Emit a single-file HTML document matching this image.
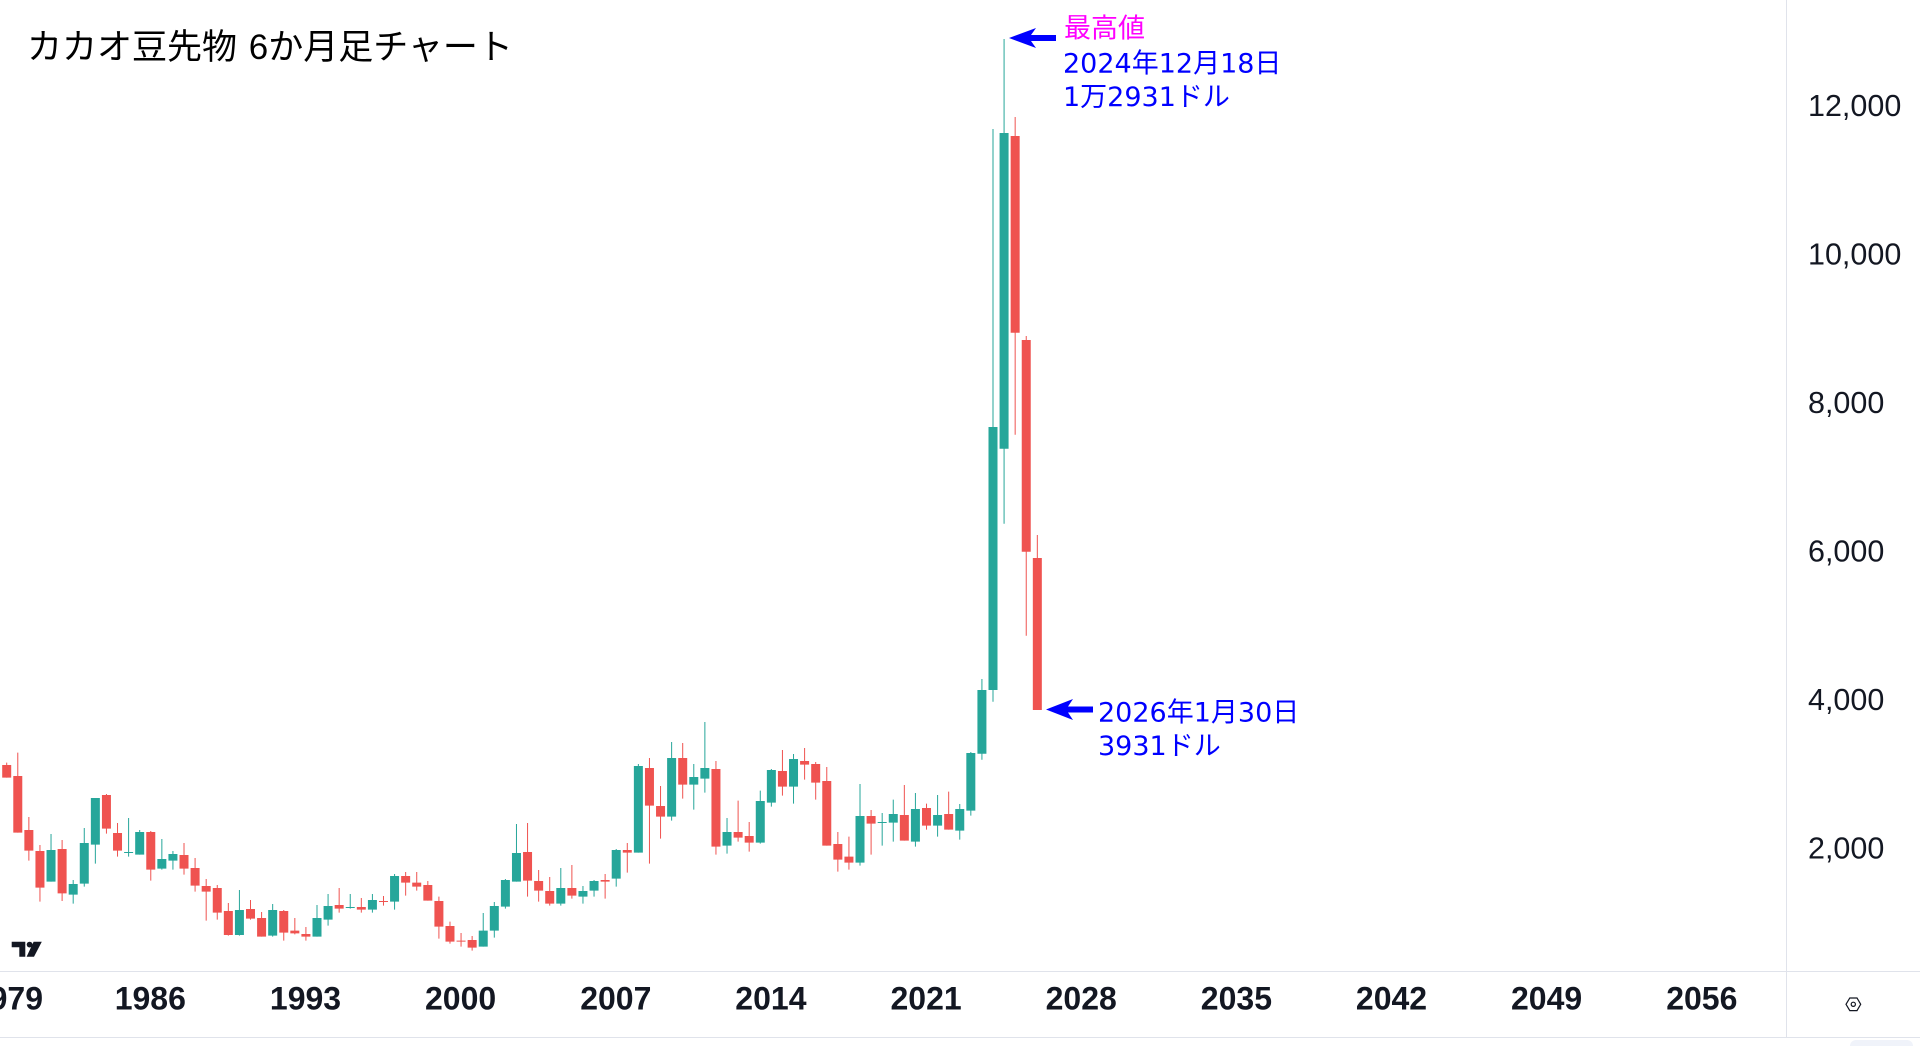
<!DOCTYPE html>
<html>
<head>
<meta charset="utf-8">
<style>
html,body{margin:0;padding:0;background:#fff;}
body{width:1920px;height:1046px;overflow:hidden;}
svg{display:block;}
</style>
</head>
<body>
<svg width="1920" height="1046" viewBox="0 0 1920 1046" xmlns="http://www.w3.org/2000/svg">
<rect x="0" y="0" width="1920" height="1046" fill="#ffffff"/>
<g stroke="#e0e3eb" stroke-width="1" shape-rendering="crispEdges">
<line x1="1786.5" y1="0" x2="1786.5" y2="1037"/>
<line x1="0" y1="971.5" x2="1920" y2="971.5"/>
<line x1="0" y1="1037.5" x2="1920" y2="1037.5"/>
</g>
<rect x="1850" y="1040" width="63" height="14" rx="6" fill="#f0f3fa"/>
<text x="27" y="59" font-family="'Liberation Sans','Noto Sans CJK JP',sans-serif" font-size="35" fill="#000">カカオ豆先物 <tspan dx="2">6か月足チャート</tspan></text>
<g transform="translate(0,700) scale(1,0.333333)">
<path stroke="#ef5350" stroke-width="1" fill="none" d="M6.70 188V233M17.78 158V398M28.86 351V482M39.95 435V605M62.11 420V603M106.44 282V401M117.52 369V470M150.77 393V542M184.01 429V524M195.09 474V575M206.18 537V662M217.26 555V659M228.34 609V707M250.50 600V659M261.59 636V710M283.75 630V722M294.83 654V703M305.91 681V722M339.16 564V638M361.32 594V638M383.49 588V617M405.65 516V587M416.73 516V572M427.82 543V602M438.90 590V716M449.98 665V731M461.06 699V740M472.14 708V752M527.55 369V590M538.64 510V605M549.72 531V617M571.88 495V596M605.13 522V596M627.29 429V518M649.46 174V491M660.54 258V416M682.70 129V296M715.95 183V464M738.11 302V425M749.19 366V455M782.44 150V287M804.60 144V239M815.69 186V299M826.77 201V437M837.85 396V515M848.93 410V509M871.10 330V464M904.34 255V422M926.51 311V389M948.67 275V389"/>
<path fill="#ef5350" d="M2.20 195h9v38h-9zM13.28 228h9v170h-9zM24.36 390h9v62h-9zM35.45 453h9v110h-9zM57.61 447h9v133h-9zM101.94 285h9v101h-9zM113.02 399h9v53h-9zM146.27 396h9v113h-9zM179.51 465h9v41h-9zM190.59 504h9v53h-9zM201.68 558h9v17h-9zM212.76 564h9v74h-9zM223.84 633h9v72h-9zM246.00 627h9v29h-9zM257.09 654h9v56h-9zM279.25 633h9v65h-9zM290.33 692h9v8h-9zM301.41 702h9v8h-9zM334.66 615h9v11h-9zM356.82 621h9v8h-9zM378.99 603h9v3h-9zM401.15 528h9v20h-9zM412.23 548h9v12h-9zM423.32 555h9v47h-9zM434.40 603h9v77h-9zM445.48 678h9v47h-9zM456.56 722h9v3h-9zM467.64 720h9v23h-9zM523.05 456h9v86h-9zM534.14 543h9v29h-9zM545.22 573h9v38h-9zM567.38 564h9v23h-9zM600.63 540h9v5h-9zM622.79 450h9v8h-9zM644.96 204h9v113h-9zM656.04 318h9v32h-9zM678.20 174h9v80h-9zM711.45 207h9v233h-9zM733.61 396h9v17h-9zM744.69 408h9v20h-9zM777.94 213h9v47h-9zM800.10 183h9v11h-9zM811.19 192h9v56h-9zM822.27 243h9v194h-9zM833.35 432h9v47h-9zM844.43 470h9v18h-9zM866.60 348h9v23h-9zM899.84 345h9v77h-9zM922.01 324h9v53h-9zM944.17 342h9v47h-9z"/>
<path stroke="#26a69a" stroke-width="1" fill="none" d="M51.03 402V545M73.19 540V611M84.27 384V560M95.36 294V491M128.60 354V470M139.68 390V464M161.85 417V509M172.93 453V509M239.42 570V707M272.67 612V710M317.00 615V710M328.08 582V677M350.24 582V626M372.41 582V638M394.57 522V629M483.23 639V740M494.31 606V713M505.39 537V626M516.47 372V545M560.80 504V617M582.96 558V611M594.05 540V590M616.21 447V560M638.37 192V458M671.62 126V362M693.78 192V329M704.87 66V278M727.03 354V461M760.28 272V431M771.36 207V320M793.52 162V311M860.01 252V497M882.18 339V437M893.26 299V425M915.42 279V440M937.59 285V410M959.75 312V419M970.83 156V347"/>
<path fill="#26a69a" d="M46.53 450h9v95h-9zM68.69 552h9v32h-9zM79.77 429h9v122h-9zM90.86 294h9v140h-9zM124.10 456h9v3h-9zM135.18 396h9v68h-9zM157.35 477h9v29h-9zM168.43 462h9v20h-9zM234.92 630h9v75h-9zM268.17 630h9v77h-9zM312.50 654h9v56h-9zM323.58 618h9v41h-9zM345.74 621h9v3h-9zM367.91 600h9v29h-9zM390.07 528h9v77h-9zM478.73 692h9v48h-9zM489.81 618h9v74h-9zM500.89 540h9v80h-9zM511.97 459h9v86h-9zM556.30 564h9v47h-9zM578.46 573h9v17h-9zM589.55 543h9v29h-9zM611.71 450h9v86h-9zM633.87 198h9v260h-9zM667.12 174h9v176h-9zM689.28 231h9v23h-9zM700.37 204h9v32h-9zM722.53 396h9v41h-9zM755.78 303h9v125h-9zM766.86 210h9v98h-9zM789.02 177h9v83h-9zM855.51 348h9v140h-9zM877.68 366h9v3h-9zM888.76 342h9v26h-9zM910.92 327h9v98h-9zM933.09 345h9v32h-9zM955.25 327h9v65h-9zM966.33 159h9v173h-9z"/>
</g>
<path stroke="#26a69a" stroke-width="1" fill="none" d="M981.92 679V759.7M993.00 129V701.7M1004.08 39V523.7"/>
<path fill="#26a69a" d="M977.42 690h9v63.7h-9zM988.50 427h9v263h-9zM999.58 133h9v315.7h-9z"/>
<path stroke="#ef5350" stroke-width="1" fill="none" d="M1015.16 117V434.7M1026.24 336V635.7M1037.33 535V710"/>
<path fill="#ef5350" d="M1010.66 136h9v196.7h-9zM1021.74 340h9v211.7h-9zM1032.83 558h9v152h-9z"/>
<polygon points="1009,38 1036,28 1031,35 1056,35 1056,41 1031,41 1036,48" fill="#0000ff"/>
<polygon points="1046,709.5 1073,699 1068,706.5 1093,706.5 1093,712.5 1068,712.5 1073,720" fill="#0000ff"/>
<g font-family="'DejaVu Sans','Noto Sans CJK JP',sans-serif" font-size="27">
<text x="1064" y="37.5" fill="#ff00ff" font-family="'Liberation Sans','Noto Sans CJK JP',sans-serif">最高値</text>
<text x="1063" y="72.7" fill="#0000ff">2024年12月18日</text>
<text x="1063" y="106" fill="#0000ff">1万2931ドル</text>
<text x="1098" y="721.7" fill="#0000ff">2026年1月30日</text>
<text x="1098" y="755" fill="#0000ff">3931ドル</text>
</g>
<g font-family="'Liberation Sans',sans-serif" font-size="30.5" fill="#131722">
<text x="1808" y="115.8">12,000</text>
<text x="1808" y="264.4">10,000</text>
<text x="1808" y="412.9">8,000</text>
<text x="1808" y="561.5">6,000</text>
<text x="1808" y="710.0">4,000</text>
<text x="1808" y="858.6">2,000</text>
</g>
<g font-family="'Liberation Sans',sans-serif" font-size="32" font-weight="bold" fill="#131722" text-anchor="middle">
<text x="43" y="1009.5" text-anchor="end">1979</text>
<text x="150.3" y="1009.5">1986</text>
<text x="305.5" y="1009.5">1993</text>
<text x="460.6" y="1009.5">2000</text>
<text x="615.8" y="1009.5">2007</text>
<text x="770.9" y="1009.5">2014</text>
<text x="926.1" y="1009.5">2021</text>
<text x="1081.2" y="1009.5">2028</text>
<text x="1236.4" y="1009.5">2035</text>
<text x="1391.5" y="1009.5">2042</text>
<text x="1546.6" y="1009.5">2049</text>
<text x="1701.8" y="1009.5">2056</text>
</g>
<polygon points="1846,1004.3 1849.8,998 1857,998 1860.7,1004.3 1857,1010.6 1849.8,1010.6" fill="none" stroke="#131722" stroke-width="1.2"/>
<circle cx="1853.3" cy="1004.3" r="2.1" fill="none" stroke="#131722" stroke-width="1.2"/>
<path fill="#131722" d="M11.7 941.7H25.3V956.7H19.3V947.3H11.7zM33.6 941.7H41.8L34 956.7H26.6z"/>
<circle cx="29.6" cy="944.6" r="2.9" fill="#131722"/>
</svg>
</body>
</html>
